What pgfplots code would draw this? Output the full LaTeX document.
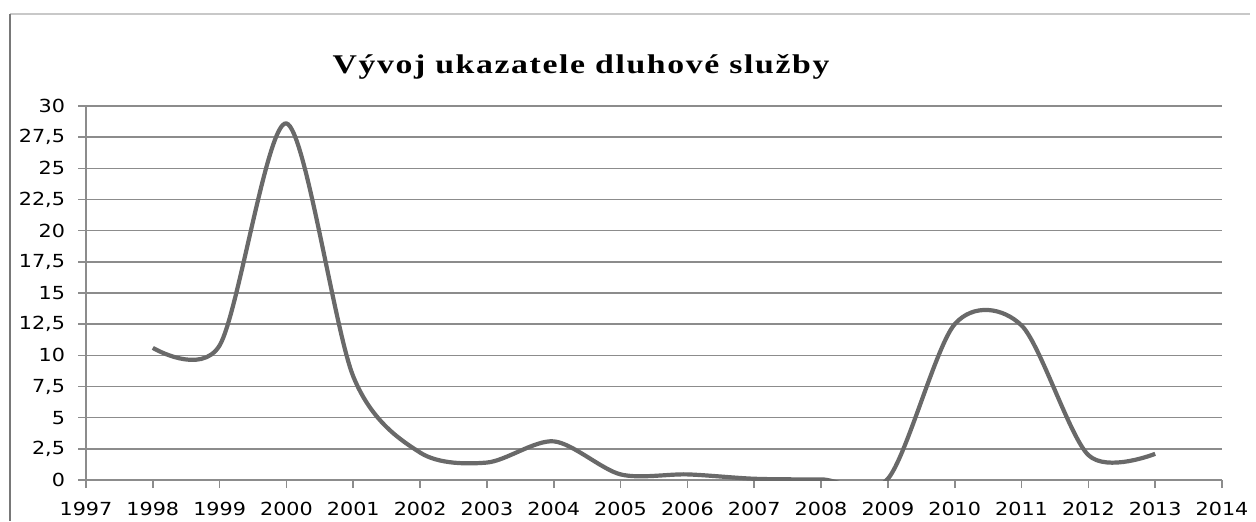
\documentclass[border=0pt]{standalone}
\usepackage{fontspec}
\usepackage{pgfplots}
\pgfplotsset{compat=1.18}
\newfontfamily\tickfont[FakeStretch=1.15]{DejaVu Sans}
\newfontfamily\titlefont[FakeStretch=1.25,LetterSpace=6]{Liberation Serif}
\definecolor{gridc}{RGB}{140,140,140}
\definecolor{linec}{RGB}{105,105,105}
\definecolor{framec}{RGB}{120,120,120}
\definecolor{topc}{RGB}{200,200,200}
\begin{document}
\begin{tikzpicture}
\useasboundingbox (0pt,0pt) rectangle (628pt,260.5pt);
\draw[topc, line width=0.8pt] (5pt,253.5pt) -- (625pt,253.5pt);
\draw[framec, line width=1.2pt] (5pt,253.5pt) -- (5pt,0pt);
\begin{axis}[
  at={(43pt,20.5pt)}, anchor=south west,
  scale only axis, width=568pt, height=187pt,
  xmin=1997, xmax=2014, ymin=0, ymax=30,
  xtick={1997,1998,...,2014},
  ytick={0,2.5,...,30},
  axis x line=bottom, axis y line=left,
  x axis line style={draw=none},
  y axis line style={gridc, line width=0.8pt, -},
  ymajorgrids,
  grid style={gridc, line width=0.8pt},
  tick align=outside,
  major tick length=4pt,
  tick style={gridc, line width=0.8pt},
  tick label style={font=\tickfont\fontsize{9}{10}\selectfont, text=black},
  /pgf/number format/assume math mode=true,
  /pgf/number format/use comma,
  /pgf/number format/1000 sep={},
  yticklabel style={xshift=-3pt},
  xticklabel style={yshift=-3.5pt},
  clip=true,
]
\addplot[linec, line width=2.1pt, smooth] coordinates {
 (1998,10.6) (1999,10.8) (2000,28.6) (2001,8.3) (2002,2.2) (2003,1.4)
 (2004,3.1) (2005,0.45) (2006,0.45) (2007,0.1) (2008,0.05) (2009,0.1)
 (2010,12.5) (2011,12.4) (2012,2.0) (2013,2.1)
};
\end{axis}
\node[font=\titlefont\bfseries\fontsize{13.5}{14}\selectfont, anchor=base] at (290.5pt,224pt) {Vývoj ukazatele dluhové služby};
\end{tikzpicture}
\end{document}
